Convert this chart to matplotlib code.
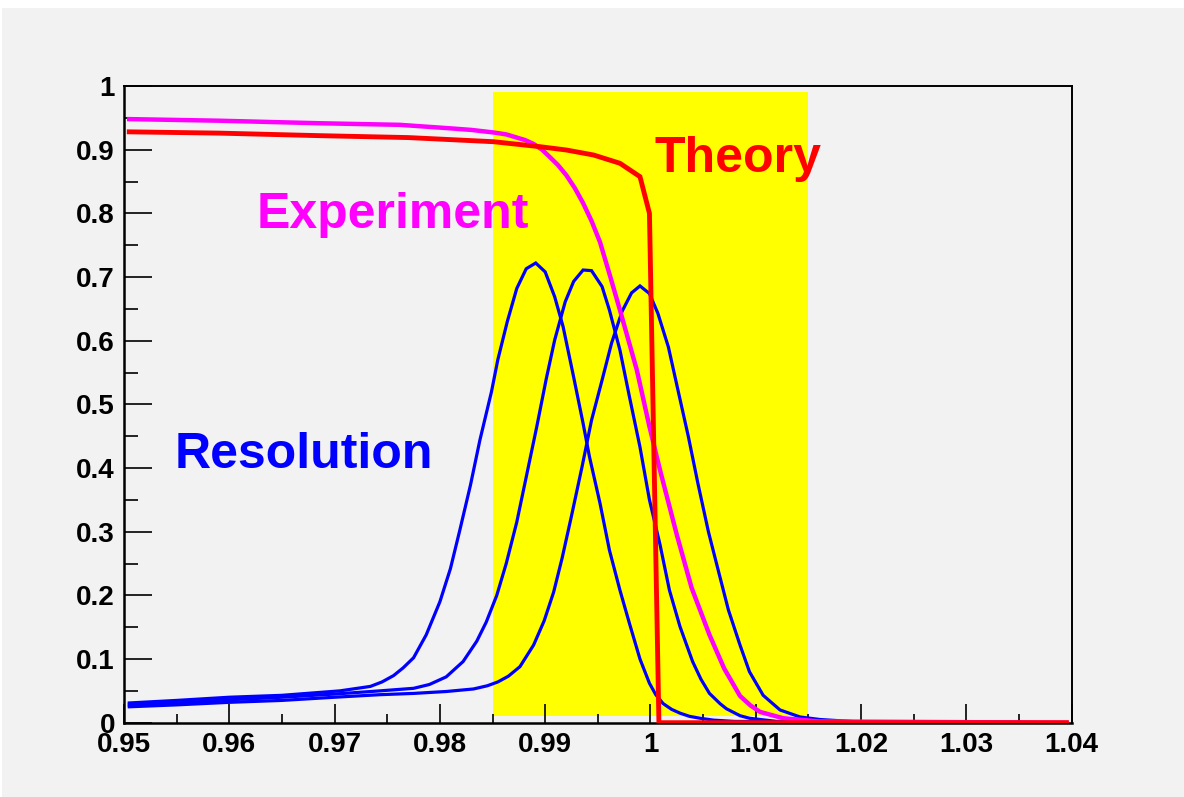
import matplotlib
matplotlib.use("Agg")
import matplotlib.pyplot as plt
from matplotlib.patches import Rectangle

plt.rcParams['font.family'] = ['Liberation Sans', 'DejaVu Sans']
plt.rcParams['font.weight'] = 'bold'

# ---- data ------------------------------------------------------------------
res1_x = [0.9505, 0.955, 0.960, 0.965, 0.9705, 0.9734, 0.9745, 0.9756, 0.9765, 0.9775,
          0.9787, 0.9800, 0.9810, 0.9819, 0.9829, 0.9838, 0.9849, 0.9855, 0.9864, 0.9873,
          0.9882, 0.9891, 0.9900, 0.9909, 0.9917, 0.9927, 0.9936, 0.9942, 0.9952, 0.9961,
          0.9971, 0.9980, 0.9990, 0.9999, 1.0005, 1.0012, 1.0020, 1.0028, 1.0037, 1.0047,
          1.0060, 1.0080, 1.0395]
res1_y = [0.031, 0.035, 0.040, 0.043, 0.050, 0.057, 0.064, 0.074, 0.086, 0.102,
          0.138, 0.190, 0.242, 0.303, 0.373, 0.444, 0.520, 0.570, 0.630, 0.682,
          0.713, 0.722, 0.708, 0.669, 0.622, 0.543, 0.470, 0.418, 0.345, 0.271,
          0.208, 0.156, 0.100, 0.062, 0.044, 0.030, 0.021, 0.015, 0.010, 0.007,
          0.004, 0.002, 0.000]

res2_x = [0.9505, 0.955, 0.960, 0.965, 0.970, 0.9743, 0.9775, 0.9790, 0.9806, 0.9822,
          0.9835, 0.9844, 0.9854, 0.9863, 0.9873, 0.9882, 0.9892, 0.9901, 0.9909, 0.9919,
          0.9927, 0.9936, 0.9944, 0.9954, 0.9961, 0.9971, 0.9980, 0.9990, 0.9999, 1.0009,
          1.0018, 1.0028, 1.0040, 1.0048, 1.0056, 1.0066, 1.0072, 1.0085, 1.0094, 1.0120,
          1.0395]
res2_y = [0.028, 0.031, 0.036, 0.040, 0.045, 0.050, 0.054, 0.060, 0.072, 0.096,
          0.128, 0.158, 0.200, 0.250, 0.315, 0.386, 0.465, 0.540, 0.601, 0.661,
          0.693, 0.711, 0.710, 0.685, 0.648, 0.585, 0.512, 0.433, 0.350, 0.280,
          0.208, 0.151, 0.096, 0.068, 0.046, 0.030, 0.022, 0.011, 0.007, 0.002,
          0.000]

res3_x = [0.9505, 0.955, 0.960, 0.965, 0.970, 0.9743, 0.9775, 0.9806, 0.9832, 0.9845,
          0.9855, 0.9865, 0.9876, 0.9889, 0.9899, 0.9908, 0.9916, 0.9925, 0.9935, 0.9944,
          0.9954, 0.9963, 0.9973, 0.9982, 0.9990, 0.9999, 1.0007, 1.0017, 1.0026, 1.0036,
          1.0045, 1.0055, 1.0065, 1.0074, 1.0085, 1.0094, 1.0107, 1.0123, 1.0142, 1.0161,
          1.0200, 1.0395]
res3_y = [0.025, 0.028, 0.032, 0.035, 0.040, 0.044, 0.046, 0.049, 0.053, 0.058,
          0.064, 0.073, 0.088, 0.122, 0.160, 0.205, 0.258, 0.325, 0.402, 0.475,
          0.538, 0.596, 0.646, 0.675, 0.686, 0.674, 0.643, 0.590, 0.523, 0.449,
          0.376, 0.300, 0.235, 0.177, 0.122, 0.080, 0.043, 0.020, 0.009, 0.005,
          0.001, 0.000]

exp_x = [0.9505, 0.959, 0.9686, 0.9762, 0.9809, 0.9830, 0.9851, 0.9863, 0.9873, 0.9881,
         0.9889, 0.9897, 0.9904, 0.9912, 0.9920, 0.9928, 0.9936, 0.9944, 0.9952, 0.9961,
         0.9971, 0.9987, 0.9999, 1.0009, 1.0025, 1.0039, 1.0056, 1.0070, 1.0085, 1.0095,
         1.0104, 1.0126, 1.0160, 1.0395]
exp_y = [0.948, 0.9455, 0.9415, 0.939, 0.9336, 0.931, 0.927, 0.924, 0.919, 0.915,
         0.909, 0.900, 0.889, 0.876, 0.860, 0.840, 0.816, 0.788, 0.755, 0.705,
         0.648, 0.554, 0.465, 0.397, 0.295, 0.212, 0.138, 0.085, 0.042, 0.027,
         0.017, 0.007, 0.002, 0.000]

theory_x = [0.9505, 0.959, 0.9686, 0.9770, 0.9851, 0.9895, 0.9920, 0.9946, 0.9971, 0.9990,
            0.9999, 1.0008, 1.0395]
theory_y = [0.928, 0.926, 0.922, 0.919, 0.9125, 0.9047, 0.8995, 0.8916, 0.8786, 0.8576,
            0.800, 0.000, 0.000]

# acceptance window (yellow band)
window_x = [0.985, 1.015]
window_y = [0.01, 0.99]

x_ticks = [0.95, 0.96, 0.97, 0.98, 0.99, 1.00, 1.01, 1.02, 1.03, 1.04]
x_labels = ['0.95', '0.96', '0.97', '0.98', '0.99', '1', '1.01', '1.02', '1.03', '1.04']
y_ticks = [0.0, 0.1, 0.2, 0.3, 0.4, 0.5, 0.6, 0.7, 0.8, 0.9, 1.0]
y_labels = ['0', '0.1', '0.2', '0.3', '0.4', '0.5', '0.6', '0.7', '0.8', '0.9', '1']

# ---- figure ------------------------------------------------------------------
fig = plt.figure(figsize=(11.84, 7.97), dpi=100)
fig.patch.set_facecolor('white')
fig.patches.append(Rectangle((2 / 1184, 0), 1.0, 1 - 8 / 797, transform=fig.transFigure,
                             facecolor='#f2f2f2', edgecolor='none', zorder=-10))

ax = fig.add_axes([124 / 1184, (797 - 722.7) / 797, (1071.7 - 124) / 1184, (722.7 - 86) / 797])
ax.set_zorder(1)
ax.set_facecolor('#f2f2f2')
ax.set_xlim(0.95, 1.04)
ax.set_ylim(0, 1)

ax.add_patch(Rectangle((window_x[0], window_y[0]), window_x[1] - window_x[0],
                       window_y[1] - window_y[0], facecolor='#ffff00', edgecolor='none', zorder=1))

for xs, ys in [(res1_x, res1_y), (res2_x, res2_y), (res3_x, res3_y)]:
    ax.plot(xs, ys, color='#0000ff', lw=2.3, zorder=2, solid_joinstyle='miter')
ax.plot(exp_x, exp_y, color='#ff00ff', lw=3.2, zorder=3)
ax.plot(theory_x, theory_y, color='#ff0000', lw=3.5, zorder=4, solid_joinstyle='miter')

ax.text(1.0004, 0.8654, 'Theory', color='#ff0000', fontsize=36, fontweight='bold',
        ha='left', va='baseline', zorder=5)
ax.text(0.9626, 0.7765, 'Experiment', color='#ff00ff', fontsize=36, fontweight='bold',
        ha='left', va='baseline', zorder=5)
ax.text(0.9548, 0.3996, 'Resolution', color='#0000ff', fontsize=36, fontweight='bold',
        ha='left', va='baseline', zorder=5)

# ROOT-like axes: ticks inside, only on left and bottom
ax.set_xticks(x_ticks)
ax.set_xticklabels(x_labels)
ax.set_yticks(y_ticks)
ax.set_yticklabels(y_labels)
ax.set_xticks([0.955 + 0.01 * i for i in range(9)], minor=True)
ax.set_yticks([0.05 + 0.1 * i for i in range(10)], minor=True)

ax.tick_params(axis='x', which='major', direction='in', length=13.7, width=1.2,
               labelsize=20, pad=6.5, top=False)
ax.tick_params(axis='x', which='minor', direction='in', length=6.5, width=1.2, top=False)
ax.tick_params(axis='y', which='major', direction='in', length=20, width=1.2,
               labelsize=20, pad=6.5, right=False)
ax.tick_params(axis='y', which='minor', direction='in', length=10, width=1.2, right=False)
for lab in ax.get_xticklabels() + ax.get_yticklabels():
    lab.set_fontweight('bold')

for side in ['left', 'bottom']:
    ax.spines[side].set_linewidth(1.8)
for side in ['top', 'right']:
    ax.spines[side].set_linewidth(1.4)

fig.savefig('out.png', dpi=100, facecolor=fig.get_facecolor())
